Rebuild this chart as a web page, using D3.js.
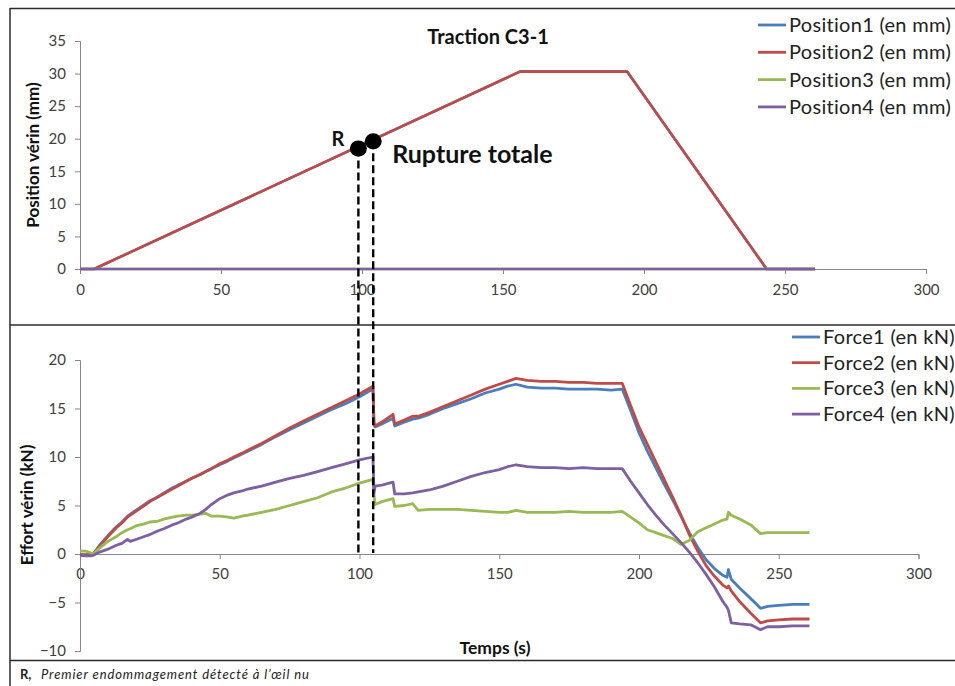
<!DOCTYPE html>
<html><head><meta charset="utf-8">
<script src="https://cdn.jsdelivr.net/npm/d3@7"></script>
<style>
body{margin:0;background:#fff}
svg{display:block}
text{font-family:Lato,"Open Sans",sans-serif}
</style>
</head><body><svg id="c" width="955" height="686"></svg>
<script>
// ---------- data ----------
const xTicks = [0, 50, 100, 150, 200, 250, 300];
const posTicks = [0, 5, 10, 15, 20, 25, 30, 35];
const forceTicks = [-10, -5, 0, 5, 10, 15, 20];

const posTime   = [0, 5, 156, 194, 243.5, 260.6];
const position1 = [0, 0, 30.3, 30.3, 0, 0];
const position2 = [0, 0, 30.3, 30.3, 0, 0];
const position3 = [0, 0, 0, 0, 0, 0];
const position4 = [0, 0, 0, 0, 0, 0];
const posNames = ["Position1 (en mm)", "Position2 (en mm)", "Position3 (en mm)", "Position4 (en mm)"];

const forceTime = [0,2,4,5,7,10,13,15,17,18,20,23,25,28,30,33,35,38,40,43,45,47,50,53,55,58,60,65,70,75,80,85,90,95,100,104.8,105.2,105.6,108,112,112.6,116,119,121,125,130,135,140,145,150,153,156,160,165,170,175,180,185,190,194,197,200,203,206,209,212,215,218,221,224,227,230,231.5,232,233,236,240,243.5,246,250,255,261];
const force1 = [-0.1,-0.1,-0.05,0.1,0.9,1.9,2.8,3.3,3.9,4.1,4.5,5.1,5.5,5.9,6.3,6.8,7.1,7.5,7.8,8.2,8.5,8.8,9.2,9.6,9.9,10.3,10.6,11.3,12.1,12.8,13.5,14.2,14.9,15.5,16.2,17.0,13.3,13.1,13.4,14.0,13.2,13.6,13.9,14.0,14.4,15.0,15.5,16.0,16.6,17.0,17.3,17.5,17.2,17.1,17.1,17.0,17.0,17.0,16.9,17.0,14.8,12.5,10.6,8.9,7.2,5.6,3.9,2.2,0.7,-0.6,-1.5,-2.2,-2.4,-1.6,-2.6,-3.5,-4.6,-5.6,-5.4,-5.3,-5.2,-5.2];
const force2 = [-0.05,-0.1,0.0,0.1,0.8,1.8,2.7,3.2,3.8,4.0,4.4,5.0,5.4,5.9,6.2,6.7,7.0,7.5,7.8,8.2,8.5,8.8,9.3,9.7,10.0,10.4,10.7,11.4,12.2,13.0,13.7,14.4,15.1,15.8,16.5,17.3,13.5,13.2,13.6,14.4,13.4,13.8,14.2,14.2,14.6,15.2,15.8,16.4,17.0,17.5,17.8,18.1,17.9,17.8,17.8,17.7,17.7,17.6,17.6,17.6,15.3,13.1,11.3,9.5,7.7,5.9,4.0,2.0,0.3,-1.2,-2.3,-3.2,-3.5,-3.3,-3.8,-4.9,-6.1,-7.1,-6.9,-6.8,-6.7,-6.7];
const force3 = [0.3,0.3,0.1,0.1,0.6,1.3,1.8,2.2,2.5,2.6,2.9,3.1,3.3,3.4,3.6,3.8,3.9,4.0,4.0,4.1,4.2,3.9,3.9,3.8,3.7,3.9,4.0,4.3,4.6,5.0,5.4,5.8,6.4,6.8,7.3,7.7,6.0,5.1,5.4,5.7,4.9,5.0,5.2,4.5,4.6,4.6,4.6,4.5,4.4,4.3,4.3,4.5,4.3,4.3,4.3,4.4,4.3,4.3,4.3,4.4,3.8,3.2,2.5,2.2,1.9,1.6,1.0,1.4,2.3,2.7,3.1,3.5,3.6,4.3,4.0,3.6,3.0,2.1,2.2,2.2,2.2,2.2];
const force4 = [-0.15,-0.2,-0.2,-0.1,0.2,0.5,0.9,1.1,1.5,1.3,1.5,1.8,2.0,2.4,2.6,3.0,3.2,3.6,3.8,4.2,4.6,5.1,5.7,6.1,6.3,6.5,6.7,7.0,7.4,7.8,8.1,8.5,8.9,9.3,9.7,10.0,6.3,7.0,7.1,7.4,6.2,6.2,6.3,6.4,6.6,7.0,7.5,8.0,8.4,8.7,9.0,9.2,9.0,8.9,8.9,8.8,8.9,8.8,8.8,8.8,7.5,6.3,5.1,4.0,3.0,2.1,1.2,0.2,-0.9,-2.1,-3.4,-4.9,-5.5,-5.8,-7.1,-7.2,-7.3,-7.8,-7.5,-7.5,-7.4,-7.4];
const forceNames = ["Force1 (en kN)", "Force2 (en kN)", "Force3 (en kN)", "Force4 (en kN)"];

const events = [{t: 99.6, v: 18.5, label: "R"}, {t: 104.9, v: 19.6, label: "Rupture totale"}];

const colors = ["#4A7EBB", "#BE4B48", "#98B954", "#7D60A0"];

// ---------- drawing ----------
const svg = d3.select("#c");

// frames
const frame = svg.append("g").attr("stroke", "#2b2b2b").attr("stroke-width", 1.5).attr("fill", "none");
frame.append("line").attr("x1", 10).attr("x2", 955).attr("y1", 8.5).attr("y2", 8.5);
frame.append("line").attr("x1", 10).attr("x2", 955).attr("y1", 325).attr("y2", 325);
frame.append("line").attr("x1", 10).attr("x2", 955).attr("y1", 660.5).attr("y2", 660.5);
frame.append("line").attr("x1", 10).attr("x2", 10).attr("y1", 8).attr("y2", 686);

// scales
const xTop = d3.scaleLinear().domain([0, 300]).range([80, 926]);
const yTop = d3.scaleLinear().domain([0, 35]).range([269, 41]);
const xBot = d3.scaleLinear().domain([0, 300]).range([80, 918.5]);
const yBot = d3.scaleLinear().domain([-10, 20]).range([651, 360]);

function styleAxis(g) {
  g.select(".domain").attr("stroke", "#868686").attr("stroke-width", 1);
  g.selectAll(".tick line").attr("stroke", "#868686");
  g.selectAll(".tick text").attr("fill", "#404040").attr("font-size", 15).attr("font-family", "Lato, 'Open Sans', sans-serif");
}

// top axes
svg.append("g").attr("transform", `translate(0,${yTop(0)})`)
  .call(d3.axisBottom(xTop).tickValues(xTicks).tickSize(5).tickPadding(10).tickSizeOuter(5))
  .call(styleAxis);
svg.append("g").attr("transform", `translate(${xTop(0)},0)`)
  .call(d3.axisLeft(yTop).tickValues(posTicks).tickSize(5).tickPadding(9).tickSizeOuter(5))
  .call(styleAxis);

// bottom axes
svg.append("g").attr("transform", `translate(0,${yBot(0)})`)
  .call(d3.axisBottom(xBot).tickValues(xTicks).tickSize(5).tickPadding(9).tickSizeOuter(5))
  .call(styleAxis);
svg.append("g").attr("transform", `translate(${xBot(0)},0)`)
  .call(d3.axisLeft(yBot).tickValues(forceTicks).tickSize(5).tickPadding(9).tickSizeOuter(5))
  .call(styleAxis);

// position lines
const posSeries = [position1, position2, position3, position4];
const lineTop = d3.line().x(d => xTop(d[0])).y(d => yTop(d[1]));
posSeries.forEach((s, i) => {
  svg.append("path").datum(posTime.map((t, j) => [t, s[j]]))
    .attr("d", lineTop).attr("fill", "none").attr("stroke", colors[i])
    .attr("stroke-width", 2.6).attr("stroke-linejoin", "round");
});

// force lines
const forceSeries = [force1, force2, force3, force4];
const lineBot = d3.line().x(d => xBot(d[0])).y(d => yBot(d[1]));
forceSeries.forEach((s, i) => {
  svg.append("path").datum(forceTime.map((t, j) => [t, s[j]]))
    .attr("d", lineBot).attr("fill", "none").attr("stroke", colors[i])
    .attr("stroke-width", 2.8).attr("stroke-linejoin", "round");
});

// dashed event lines and dots
events.forEach(e => {
  svg.append("line")
    .attr("x1", xBot(e.t)).attr("x2", xBot(e.t))
    .attr("y1", yTop(e.v)).attr("y2", yBot(0) - 1)
    .attr("stroke", "#000").attr("stroke-width", 2.4).attr("stroke-dasharray", "8,4");
  svg.append("ellipse").attr("cx", xBot(e.t)).attr("cy", yTop(e.v))
    .attr("rx", 8.5).attr("ry", 8).attr("fill", "#000");
});
svg.append("text").attr("x", xBot(events[0].t) - 14).attr("y", yTop(events[0].v) - 2)
  .attr("text-anchor", "end").attr("font-size", 20).attr("font-weight", "bold").attr("fill", "#111").text(events[0].label);
svg.append("text").attr("x", xBot(events[1].t) + 19).attr("y", yTop(events[1].v) + 22)
  .attr("font-size", 25).attr("font-weight", "bold").attr("fill", "#111").text(events[1].label);

// title
svg.append("text").attr("x", 488).attr("y", 44).attr("text-anchor", "middle")
  .attr("font-size", 20).attr("font-weight", "bold").attr("fill", "#111").text("Traction C3-1");

// axis titles
svg.append("text").attr("transform", "translate(39,155) rotate(-90)").attr("text-anchor", "middle")
  .attr("font-size", 17).attr("font-weight", "bold").attr("fill", "#111").text("Position vérin (mm)");
svg.append("text").attr("transform", "translate(33,505) rotate(-90)").attr("text-anchor", "middle")
  .attr("font-size", 17).attr("font-weight", "bold").attr("fill", "#111").text("Effort vérin (kN)");
svg.append("text").attr("x", 495).attr("y", 654).attr("text-anchor", "middle")
  .attr("font-size", 17.5).attr("font-weight", "bold").attr("fill", "#111").text("Temps (s)");

// legends
function legend(names, x0, y0, dy) {
  const g = svg.append("g");
  names.forEach((n, i) => {
    const y = y0 + i * dy;
    g.append("line").attr("x1", x0).attr("x2", x0 + 28).attr("y1", y).attr("y2", y)
      .attr("stroke", colors[i]).attr("stroke-width", 2.8);
    g.append("text").attr("x", x0 + 31).attr("y", y + 7).attr("font-size", 20)
      .attr("letter-spacing", 0.3).attr("fill", "#222").text(n);
  });
}
legend(posNames, 758, 25, 27.3);
legend(forceNames, 792, 337, 25.7);

// footnote
const fn = svg.append("text").attr("x", 20).attr("y", 679).attr("font-size", 13).attr("fill", "#222");
fn.append("tspan").attr("font-weight", "bold").text("R,");
fn.append("tspan").attr("x", 41).attr("font-style", "italic").attr("letter-spacing", 0.9).text("Premier endommagement détecté à l’œil nu");
</script>
</body></html>
